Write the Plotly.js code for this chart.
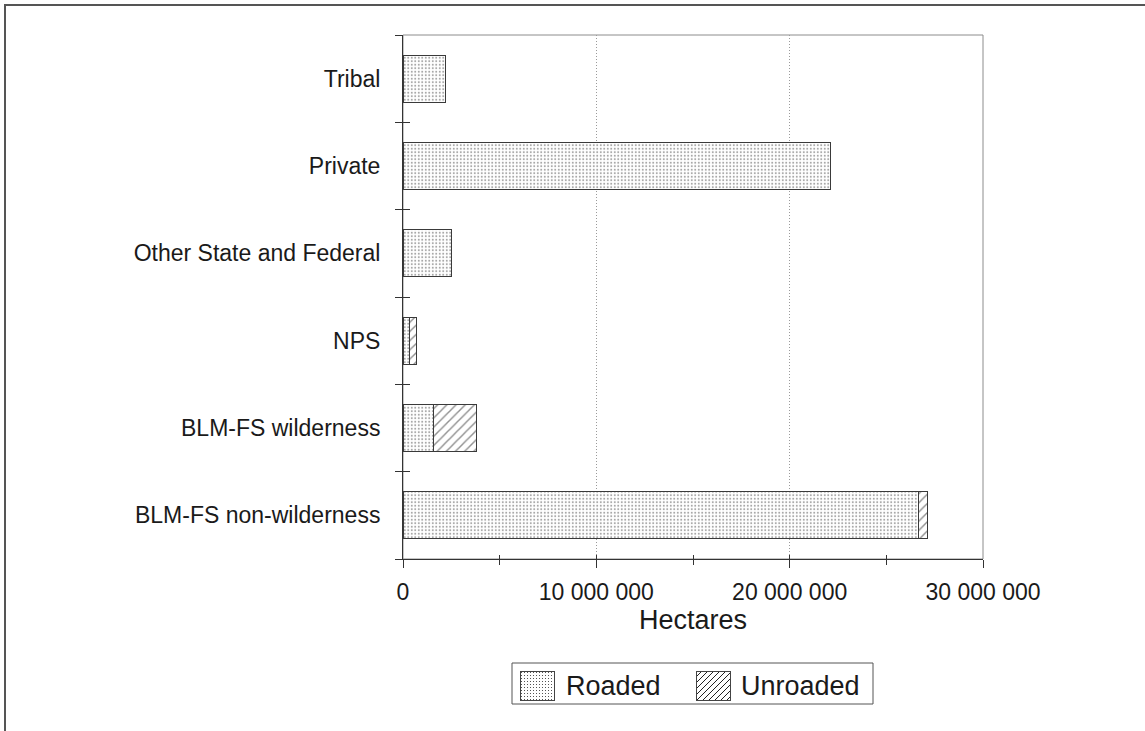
<!DOCTYPE html>
<html>
<head>
<meta charset="utf-8">
<script src="https://cdn.plot.ly/plotly-3.0.1.min.js"></script>
<style>
  html, body { margin: 0; padding: 0; background: #fff; }
  #wrap { position: relative; width: 1145px; height: 731px; }
  #chart { width: 1145px; height: 731px; }
  #frame {
    position: absolute; left: 4px; top: 4px; right: -10px; bottom: -10px;
    border-top: 2px solid #555; border-left: 2px solid #555; pointer-events: none;
  }
</style>
</head>
<body>
<div id="wrap">
  <div id="chart"></div>
  <div id="frame"></div>
</div>
<script>
// Land ownership categories, listed bottom to top
const categories = [
  "BLM-FS non-wilderness",
  "BLM-FS wilderness",
  "NPS",
  "Other State and Federal",
  "Private",
  "Tribal"
];
// Area in hectares
const roaded   = [26650000, 1570000, 360000, 2530000, 22090000, 2220000];
const unroaded = [490000, 2240000, 350000, null, null, null];
const seriesNames = ["Roaded", "Unroaded"];
const xTickVals = [0, 10000000, 20000000, 30000000];

const W = 1145, H = 731;
const plot = { l: 403, r: 983, t: 35, b: 559 };
const px = v => (v - plot.l) / (plot.r - plot.l);
const py = v => (plot.b - v) / (plot.b - plot.t);

const FONT = '"Liberation Sans", Arial, Helvetica, sans-serif';

const barLine = { color: '#3a3a3a', width: 1 };
const roadedPattern = { shape: '.', size: 3.5, solidity: 0.25, fgcolor: '#4a4a4a', bgcolor: '#fff', fillmode: 'overlay' };
const unroadedPattern = { shape: '/', size: 6.5, solidity: 0.22, fgcolor: '#222', bgcolor: '#fff', fillmode: 'overlay' };

const traces = [
  {
    type: 'bar', orientation: 'h', name: seriesNames[0],
    y: categories, x: roaded, width: 0.54,
    marker: { color: '#fff', pattern: roadedPattern, line: barLine },
    showlegend: false, hoverinfo: 'x+y'
  },
  {
    type: 'bar', orientation: 'h', name: seriesNames[1],
    y: categories, x: unroaded, width: 0.54,
    marker: { color: '#fff', pattern: unroadedPattern, line: barLine },
    showlegend: false, hoverinfo: 'x+y'
  },
  // empty trace that carries the overlay axes used for inward tick marks
  { type: 'scatter', x: [], y: [], xaxis: 'x2', yaxis: 'y2', showlegend: false, hoverinfo: 'skip' }
];

// Legend swatches as small SVG images
function swatch(kind) {
  let pat;
  if (kind === 'dots') {
    pat = "<pattern id='p' width='3' height='3' patternUnits='userSpaceOnUse'>" +
          "<rect x='1' y='1' width='1' height='1' fill='#555'/></pattern>";
  } else {
    pat = "<pattern id='p' width='6' height='6' patternUnits='userSpaceOnUse'>" +
          "<path d='M-1,7 L7,-1 M-1,1 L1,-1 M5,7 L7,5' stroke='#222' stroke-width='1'/></pattern>";
  }
  const svg = "<svg xmlns='http://www.w3.org/2000/svg' width='35' height='30'><defs>" + pat +
              "</defs><rect x='0.5' y='0.5' width='34' height='29' fill='url(#p)' stroke='#444' stroke-width='1'/></svg>";
  return 'data:image/svg+xml;charset=utf-8,' + encodeURIComponent(svg);
}

const layout = {
  width: W, height: H,
  margin: { l: plot.l, r: W - plot.r, t: plot.t, b: H - plot.b, pad: 0 },
  paper_bgcolor: '#fff', plot_bgcolor: '#fff',
  font: { family: FONT, size: 22, color: '#1a1a1a' },
  separators: '. ',
  barmode: 'stack',
  showlegend: false,
  xaxis: {
    range: [0, 30000000], tickvals: xTickVals, tickformat: ',d',
    showgrid: true, gridcolor: '#9a9a9a', gridwidth: 1, griddash: '1px,2px',
    zeroline: false, showline: true, linecolor: '#333', linewidth: 1,
    ticks: 'outside', ticklen: 8, tickcolor: '#333', tickwidth: 1,
    minor: { dtick: 5000000, tick0: 0, ticks: 'outside', ticklen: 5, tickcolor: '#333', showgrid: false },
    tickfont: { size: 23 }, ticklabelstandoff: 4,
    automargin: true,
    title: { text: 'Hectares', font: { size: 27 }, standoff: 6 },
    fixedrange: true
  },
  yaxis: {
    type: 'category', categoryorder: 'array', categoryarray: categories,
    range: [-0.5, categories.length - 0.5],
    tickson: 'boundaries', ticks: 'outside', ticklen: 7, tickcolor: '#333', tickwidth: 1,
    showgrid: false, zeroline: false, showline: true, linecolor: '#333', linewidth: 1,
    tickfont: { size: 23 }, ticklabelstandoff: 17,
    automargin: false,
    fixedrange: true
  },
  xaxis2: {
    overlaying: 'x', anchor: 'y2', range: [0, 30000000], dtick: 5000000, tick0: 0,
    ticks: 'inside', ticklen: 4, tickcolor: '#333', showticklabels: false,
    showgrid: false, zeroline: false, showline: false, fixedrange: true
  },
  yaxis2: {
    overlaying: 'y', anchor: 'x2', side: 'left',
    range: [-0.5, categories.length - 0.5], dtick: 1, tick0: -0.5,
    ticks: 'inside', ticklen: 7, tickcolor: '#333', showticklabels: false,
    showgrid: false, zeroline: false, showline: false, fixedrange: true
  },
  shapes: [
    // plot-area frame (top and right edges lighter than the axes)
    { type: 'rect', xref: 'paper', yref: 'paper', x0: 0, x1: 1, y0: 0, y1: 1,
      line: { color: '#8c8c8c', width: 1 }, layer: 'below' },
    // legend box
    { type: 'rect', xref: 'paper', yref: 'paper', x0: px(512), x1: px(873), y0: py(704), y1: py(663),
      line: { color: '#555', width: 1 }, fillcolor: 'rgba(0,0,0,0)', layer: 'below' }
  ],
  images: [
    { source: swatch('dots'), xref: 'paper', yref: 'paper', x: px(520), y: py(671),
      sizex: px(555) - px(520), sizey: py(671) - py(701), xanchor: 'left', yanchor: 'top',
      sizing: 'stretch', layer: 'above' },
    { source: swatch('hatch'), xref: 'paper', yref: 'paper', x: px(696), y: py(671),
      sizex: px(731) - px(696), sizey: py(671) - py(701), xanchor: 'left', yanchor: 'top',
      sizing: 'stretch', layer: 'above' }
  ],
  annotations: [
    { text: seriesNames[0], xref: 'paper', yref: 'paper', x: px(564), y: py(686),
      xanchor: 'left', yanchor: 'middle', showarrow: false, font: { size: 27 } },
    { text: seriesNames[1], xref: 'paper', yref: 'paper', x: px(739), y: py(686),
      xanchor: 'left', yanchor: 'middle', showarrow: false, font: { size: 27 } }
  ]
};

Plotly.newPlot('chart', traces, layout, { displayModeBar: false, staticPlot: true });
</script>
</body>
</html>
